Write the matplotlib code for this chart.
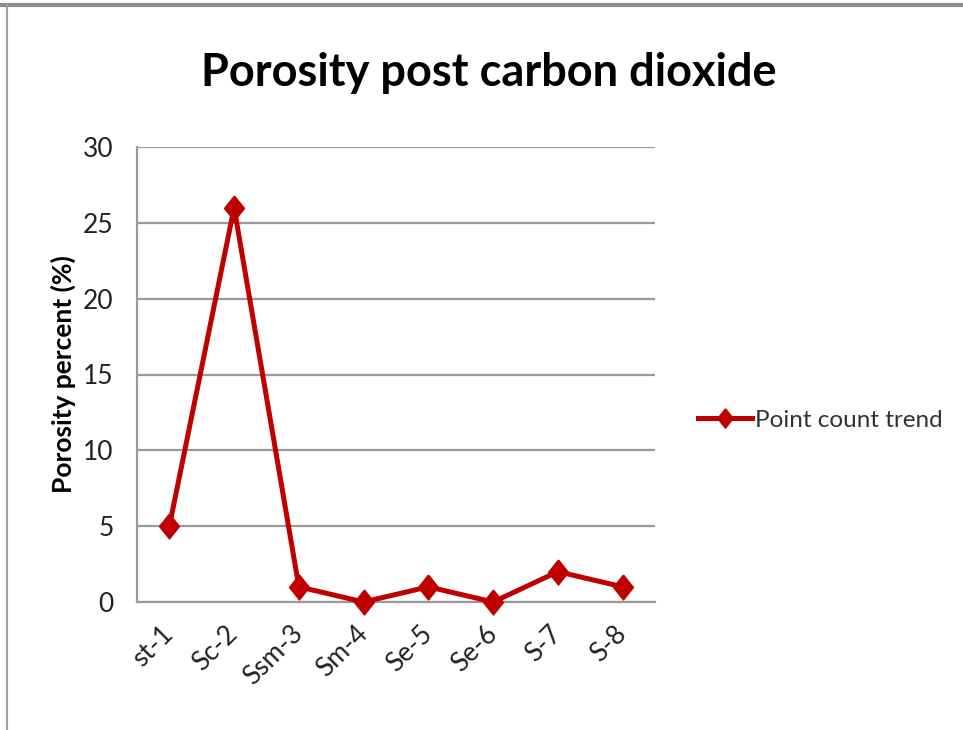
import matplotlib
matplotlib.use("Agg")
import matplotlib.pyplot as plt
from matplotlib.lines import Line2D

samples = ["st-1", "Sc-2", "Ssm-3", "Sm-4", "Se-5", "Se-6", "S-7", "S-8"]
porosity = [5, 26, 1, 0, 1, 0, 2, 1]
y_ticks = [0, 5, 10, 15, 20, 25, 30]

FONT = "Lato"
RED = "#C00000"
GRID = "#9a9a9a"
# slightly tall diamond marker
DIAMOND = [(0, 1), (0.8, 0), (0, -1), (-0.8, 0), (0, 1)]

fig = plt.figure(figsize=(9.63, 7.30), dpi=100)
ax = fig.add_axes([137 / 963, 1 - 602 / 730, (655 - 137) / 963, (602 - 147) / 730])

x = list(range(len(samples)))
ax.plot(x, porosity, color=RED, lw=3.6, marker=DIAMOND, markersize=18,
        label="Point count trend", zorder=3, clip_on=False)

ax.set_xlim(-0.5, len(samples) - 0.5)
ax.set_ylim(0, 30)
ax.set_yticks(y_ticks)
ax.set_yticklabels([str(v) for v in y_ticks], fontsize=19, family=FONT, color="#222222")
ax.set_xticks(x)
ax.set_xticklabels(samples, fontsize=19, family=FONT, color="#222222",
                   rotation=45, ha="right", va="center", rotation_mode="anchor")
ax.tick_params(axis="both", length=0)
ax.tick_params(axis="y", pad=17)
ax.tick_params(axis="x", pad=20)

ax.yaxis.grid(True, color=GRID, lw=1.6)
ax.set_axisbelow(True)
for side in ("top", "right"):
    ax.spines[side].set_visible(False)
for side in ("left", "bottom"):
    ax.spines[side].set_color(GRID)
    ax.spines[side].set_linewidth(1.6)

ax.set_ylabel("Porosity percent (%)", fontsize=19, family=FONT, fontweight="bold",
              labelpad=5)

fig.text(489 / 963, 1 - 73 / 730, "Porosity post carbon dioxide", ha="center",
         va="center", fontsize=32.5, family=FONT, fontweight="bold")

handle = Line2D([], [], color=RED, lw=3.6, marker=DIAMOND, markersize=14)
fig.legend([handle], ["Point count trend"], loc="center left",
           bbox_to_anchor=(688 / 963, 1 - 420 / 730), frameon=False,
           prop={"family": FONT, "size": 17.5}, handlelength=2.25,
           handletextpad=0.1, borderaxespad=0, labelcolor="#333333")

# outer frame edges
fig.add_artist(Line2D([0, 1], [1 - 5 / 730] * 2, color="#8c8c8c", lw=3,
                      transform=fig.transFigure))
fig.add_artist(Line2D([7 / 963] * 2, [0, 1 - 5 / 730], color="#a0a0a0", lw=1.5,
                      transform=fig.transFigure))

fig.savefig("out.png", dpi=100, facecolor="white")
